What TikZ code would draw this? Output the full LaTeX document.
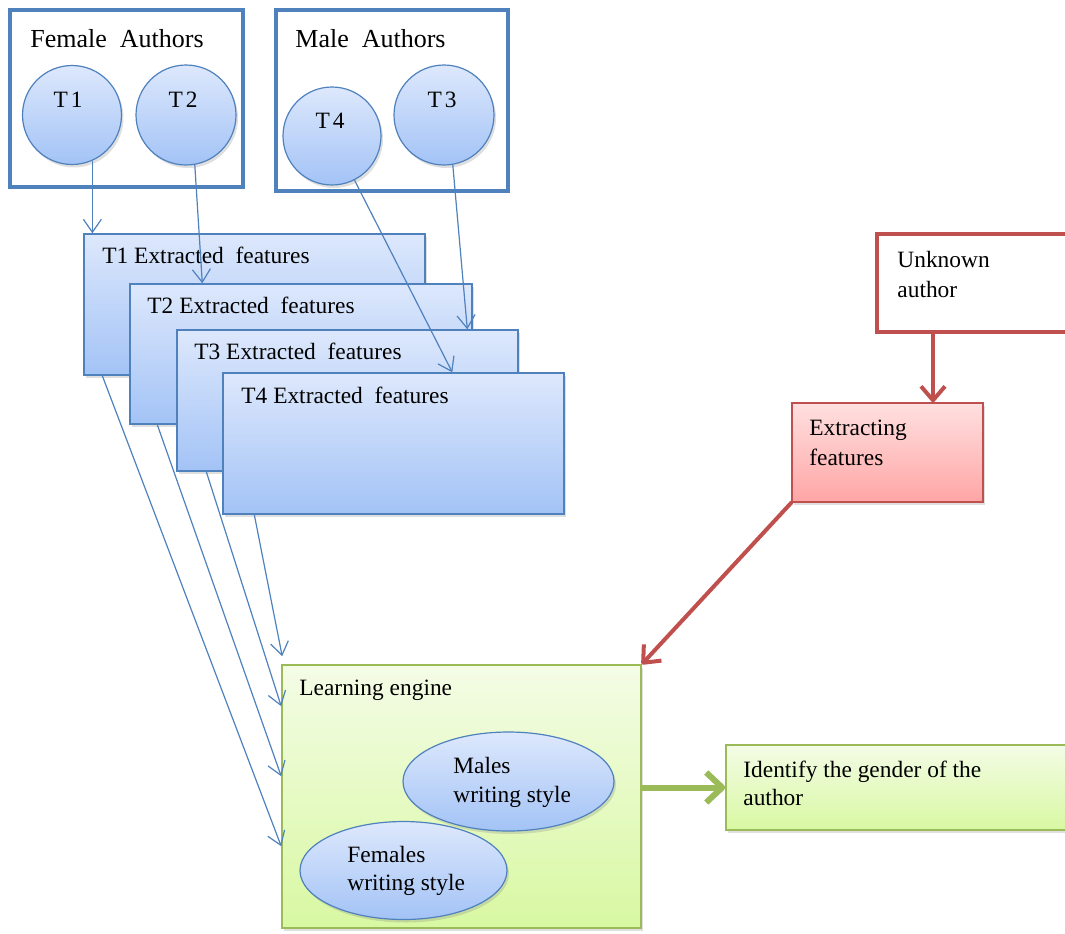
\documentclass[tikz,border=0pt]{standalone}
\usepackage{fontspec}
\setmainfont{Liberation Serif}
\usetikzlibrary{arrows.meta,calc,fit,shadows,shapes.geometric}
\definecolor{bluebd}{HTML}{4F81BD}
\definecolor{bluetop}{HTML}{DDE8FC}
\definecolor{bluebot}{HTML}{A3C3F6}
\definecolor{redbd}{HTML}{C0504D}
\definecolor{redtop}{HTML}{FFE0E0}
\definecolor{redbot}{HTML}{FFA5A5}
\definecolor{greenbd}{HTML}{9BBB59}
\definecolor{greentop}{HTML}{F4FCE6}
\definecolor{greenbot}{HTML}{D8F8A2}
\begin{document}
\begin{tikzpicture}[x=0.5pt,y=-0.5pt,
  txt/.style={anchor=base west,inner sep=0,font=\fontsize{11.7}{14}\selectfont},
  ctxt/.style={anchor=base,inner sep=0,font=\fontsize{11.7}{14}\selectfont},
  ttl/.style={anchor=base west,inner sep=0,font=\fontsize{13}{16}\selectfont},
  shad/.style={drop shadow={opacity=0.25,shadow xshift=1pt,shadow yshift=-1.5pt}},
  frame/.style={draw=bluebd,line width=2pt,inner sep=0},
  bluebox/.style={draw=bluebd,line width=0.7pt,inner sep=0,top color=bluetop,bottom color=bluebot,shad},
  circ/.style={circle,draw=bluebd,line width=0.6pt,inner sep=0,top color=bluetop,bottom color=bluebot,shad},
  ell/.style={ellipse,draw=bluebd,line width=0.6pt,inner sep=0,top color=bluetop,bottom color=bluebot,shad},
  redframe/.style={draw=redbd,line width=2pt,fill=white,inner sep=0},
  redbox/.style={draw=redbd,line width=0.7pt,inner sep=0,top color=redtop,bottom color=redbot,shad},
  greenbox/.style={draw=greenbd,line width=0.8pt,inner sep=0,top color=greentop,bottom color=greenbot,shad},
  barrow/.style={draw=bluebd,line width=0.6pt,-{Straight Barb[length=6.5pt,width=9pt]}},
  rarrow/.style={draw=redbd,line width=2pt,line cap=round,-{Straight Barb[length=7pt,width=12pt,line join=round]}},
  garrow/.style={draw=greenbd,line width=3pt,-{Straight Barb[length=8pt,width=15pt,line join=round]}}
]
\useasboundingbox (0,0) rectangle (1065,933);
\clip (0,0) rectangle (1065,933);

% author frames
\node[frame,fit={(10,10) (243,187)}] (fa) {};
\node[frame,fit={(276,10) (508,191)}] (ma) {};
\node[ttl] (fat) at (30,47) {Female\ \ Authors};
\node[ttl] (mat) at (295,47) {Male\ \ Authors};

% circles
\node[circ,minimum size=49.5pt] (c1) at (72,115) {};
\node[circ,minimum size=50pt] (c2) at (186,115) {};
\node[circ,minimum size=49pt] (c4) at (332,136) {};
\node[circ,minimum size=50pt] (c3) at (444,115) {};
\node[ctxt] (c1t) at (68,107) {T\kern1.5pt1};
\node[ctxt] (c2t) at (183,107) {T\kern1.5pt2};
\node[ctxt] (c4t) at (330,128) {T\kern1.5pt4};
\node[ctxt] (c3t) at (442,107) {T\kern1.5pt3};

% feature boxes
\node[bluebox,fit={(84,234) (425,375)}] (f1) {};
\node[txt] (f1t) at (102,263) {T1 Extracted\ \ features};
\node[bluebox,fit={(130,284) (472,424)}] (f2) {};
\node[txt] (f2t) at (147,313) {T2 Extracted\ \ features};
\node[bluebox,fit={(177,330) (518,471)}] (f3) {};
\node[txt] (f3t) at (194,359) {T3 Extracted\ \ features};
\node[bluebox,fit={(223,373) (564,514)}] (f4) {};
\node[txt] (f4t) at (241,403) {T4 Extracted\ \ features};

% unknown author & extracting
\node[redframe,fit={(877,234) (1080,332)}] (u) {};
\node[txt] (ut1) at (897,267) {Unknown};
\node[txt] (ut2) at (897,297) {author};
\node[redbox,fit={(792,403) (983,502)}] (e) {};
\node[txt] (et1) at (809,435) {Extracting};
\node[txt] (et2) at (809,465) {features};

% learning engine
\node[greenbox,fit={(282,665) (641,928)}] (le) {};
\node[txt] (let) at (299,695) {Learning engine};
\node[ell,minimum width=105.5pt,minimum height=49.5pt] (me) at (508.5,781.5) {};
\node[txt] (met1) at (453,773) {Males};
\node[txt] (met2) at (453,802) {writing style};
\node[ell,minimum width=103.5pt,minimum height=49pt] (fe) at (403.5,870.5) {};
\node[txt] (fet1) at (347,862) {Females};
\node[txt] (fet2) at (347,890) {writing style};

% identify
\node[greenbox,fit={(726,745) (1080,830)}] (id) {};
\node[txt] (idt1) at (743,777) {Identify the gender of the};
\node[txt] (idt2) at (743,805) {author};

% blue arrows: circles -> feature boxes
\draw[barrow] (c1.-66) -- (c1.-66 |- f1.north);
\coordinate (f2in) at ($(f2.north west)+(73,0)$);
\draw[barrow] (c2.-80) -- (f2in);
\coordinate (f3in) at ($(f3.north west)+(291,0)$);
\draw[barrow] (c3.-80) -- (f3in);
\coordinate (f4in) at ($(f4.north west)+(230,0)$);
\draw[barrow] (c4.-63) -- (f4in);

% blue arrows: feature boxes -> learning engine
\draw[barrow] ($(f1.south west)+(19,0)$) -- ($(le.north west)+(0,182)$);
\draw[barrow] ($(f2.south west)+(28,0)$) -- ($(le.north west)+(0,112)$);
\draw[barrow] ($(f3.south west)+(30,0)$) -- ($(le.north west)+(0,42)$);
\draw[barrow] ($(f4.south west)+(32,0)$) -- ($(le.north west)+(1,-8)$);

% red arrows
\coordinate (uout) at ($(u.south west)+(58,0)$);
\draw[rarrow] (uout) -- (uout |- e.north);
\draw[rarrow] (e.south west) -- (le.north east);

% green arrow
\draw[garrow] (id.west -| le.east) -- (id.west);
\end{tikzpicture}
\end{document}
